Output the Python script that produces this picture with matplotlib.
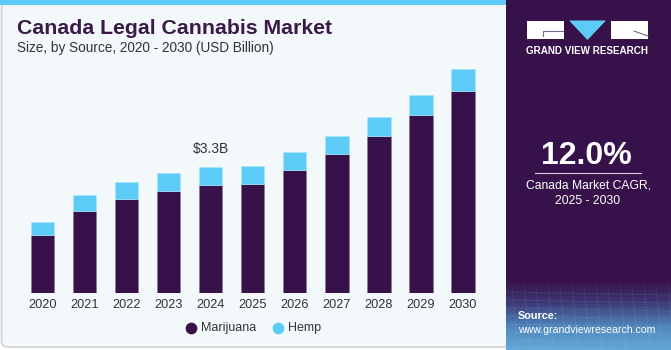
import numpy as np
import matplotlib.pyplot as plt
from matplotlib.patches import FancyBboxPatch, Rectangle, Polygon
from matplotlib.colors import LinearSegmentedColormap

years = ['2020', '2021', '2022', '2023', '2024', '2025', '2026', '2027', '2028', '2029', '2030']
marijuana = [1.54, 2.15, 2.46, 2.68, 2.83, 2.87, 3.23, 3.64, 4.12, 4.66, 5.31]
hemp = [0.33, 0.42, 0.45, 0.47, 0.47, 0.46, 0.47, 0.49, 0.51, 0.54, 0.56]
label_year = '2024'
label_text = '$3.3B'

purple = '#37114a'
blue = '#5ccbf7'
plt.rcParams['font.family'] = ['Liberation Sans', 'DejaVu Sans']

fig = plt.figure(figsize=(6.71, 3.5), dpi=100)
fig.patch.set_facecolor('white')

# background decoration axes in pixel coords
bg = fig.add_axes([0, 0, 1, 1])
bg.set_xlim(0, 671)
bg.set_ylim(350, 0)
bg.axis('off')

bg.add_patch(FancyBboxPatch((1.5, 2), 508, 345, boxstyle='round,pad=0,rounding_size=6',
                            facecolor='#f3f8fb', edgecolor='#cfd3d6', linewidth=1.2))
bg.add_patch(Rectangle((0, 0), 506, 4.5, facecolor=blue, edgecolor='none'))

# right panel
bg.add_patch(Rectangle((506, 0), 165, 350, facecolor=purple, edgecolor='none'))
cmap = LinearSegmentedColormap.from_list('wave', [purple, '#3d3a78', '#4f86bd', '#62a8d8'])
grad = np.linspace(0, 1, 100).reshape(-1, 1)
bg.imshow(grad, cmap=cmap, extent=(506, 671, 350, 280), aspect='auto', zorder=1)
for yy in np.linspace(292, 348, 8):
    bg.plot([506, 671], [yy, yy + 3], color='white', alpha=0.08, lw=0.6, zorder=2)
for xx in np.linspace(512, 668, 14):
    bg.plot([xx, xx + 6], [285, 350], color='white', alpha=0.08, lw=0.6, zorder=2)

# logo
bg.add_patch(Rectangle((527, 20.5), 37, 18.5, facecolor='white', edgecolor='none', zorder=3))
bg.plot([543, 543, 563], [36, 31, 31], color='#7a6a86', lw=0.8, zorder=4)
bg.add_patch(Polygon([(569, 20.5), (606, 20.5), (587.5, 40)], closed=True,
                     facecolor=blue, edgecolor='none', zorder=3))
bg.add_patch(Rectangle((611, 20.5), 37, 18.5, facecolor='white', edgecolor='none', zorder=3))
bg.plot([634, 648], [31, 36], color='#7a6a86', lw=0.8, zorder=4)
bg.text(587.5, 51, 'GRAND VIEW RESEARCH', color='white', fontsize=7.1, fontweight='bold',
        ha='center', va='center', zorder=4)

bg.text(586, 156, '12.0%', color='white', fontsize=23, fontweight='bold',
        ha='center', va='center', zorder=4)
bg.plot([535, 641], [173, 173], color='#d8d0de', lw=0.8, zorder=4)
bg.text(588, 186, 'Canada Market CAGR,', color='white', fontsize=8.7,
        ha='center', va='center', zorder=4)
bg.text(588, 201, '2025 - 2030', color='white', fontsize=8.7,
        ha='center', va='center', zorder=4)
bg.text(518, 316, 'Source:', color='white', fontsize=7.8, fontweight='bold',
        ha='left', va='center', zorder=4)
bg.text(518, 330, 'www.grandviewresearch.com', color='white', fontsize=7.6,
        ha='left', va='center', zorder=4)

# titles
bg.text(17, 29, 'Canada Legal Cannabis Market', color='#3b1a4a', fontsize=15.3,
        fontweight='heavy', ha='left', va='center')
bg.text(17, 48, 'Size, by Source, 2020 - 2030 (USD Billion)', color='#333333', fontsize=9.8,
        ha='left', va='center')

# legend
bg.scatter([191], [328], s=55, color=purple, zorder=4)
bg.text(201, 328, 'Marijuana', color='#333333', fontsize=9, ha='left', va='center')
bg.scatter([278], [328], s=55, color=blue, zorder=4)
bg.text(288, 328, 'Hemp', color='#333333', fontsize=9, ha='left', va='center')

# bar chart
ax = fig.add_axes([21.5 / 671, (350 - 293.3) / 350, 462.5 / 671, 233.3 / 350])
ax.patch.set_alpha(0)
x = np.arange(len(years))
ax.bar(x, marijuana, width=0.555, color=purple, edgecolor='#8a7a96', linewidth=0.5)
ax.bar(x, hemp, bottom=marijuana, width=0.555, color=blue, edgecolor='#a8e4fb', linewidth=0.5)
ax.set_xlim(-0.5, len(years) - 0.5)
ax.set_ylim(0, 233.3 * 3.3 / 126)
ax.set_xticks(x)
ax.set_xticklabels(years, fontsize=9.2, color='#333333')
ax.tick_params(axis='x', length=0, pad=4)
ax.set_yticks([])
for s in ax.spines.values():
    s.set_visible(False)

i = years.index(label_year)
ax.annotate(label_text, (i, marijuana[i] + hemp[i]), xytext=(0, 8), textcoords='offset points',
            ha='center', va='bottom', fontsize=10, color='#333333')

fig.savefig('out.png', dpi=100)
